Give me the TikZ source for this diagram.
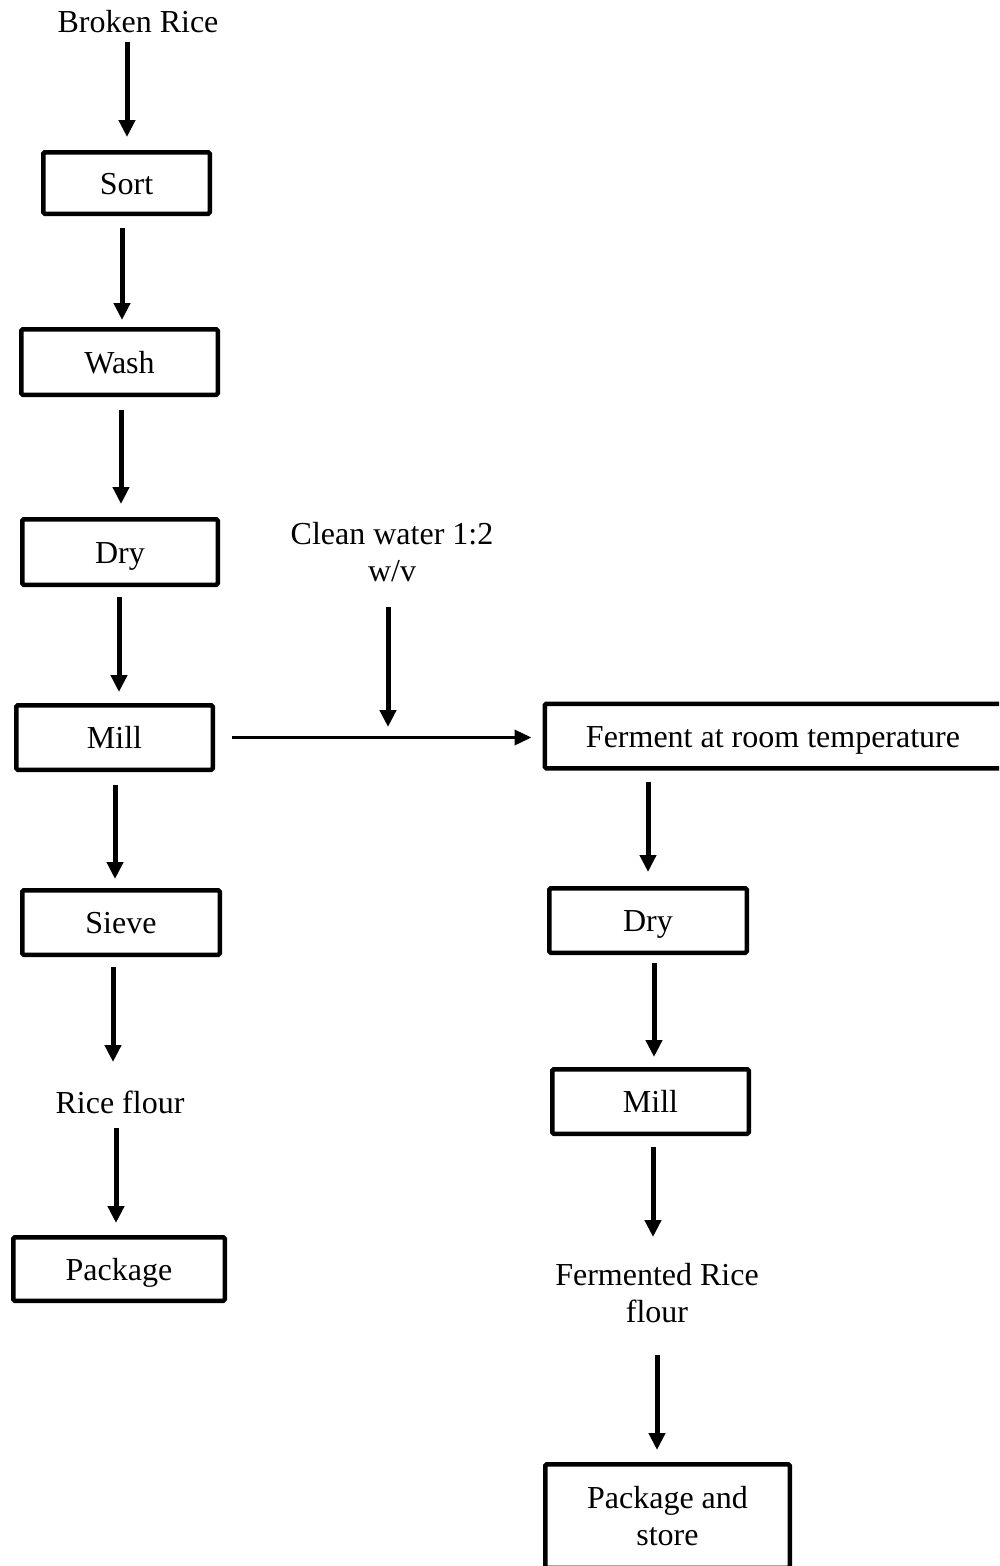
\documentclass[tikz,border=0pt]{standalone}
\usepackage{fontspec}
\setmainfont{Liberation Serif}
\usetikzlibrary{arrows.meta,calc}

\tikzset{
  stepbox/.style={draw=black, line width=4.5pt, rounded corners=1.5pt, fill=white,
    inner sep=0pt, align=center, font=\fontsize{32}{37}\selectfont},
  oneline/.style={text height=22pt, text depth=0pt},
  label/.style={inner sep=0pt, align=center, font=\fontsize{32}{37}\selectfont},
  flow/.style={line width=5pt, -{Triangle[length=17pt,width=16pt]}},
  thinflow/.style={line width=3.5pt, -{Triangle[length=17pt,width=15pt]}}
}

\begin{document}
\begin{tikzpicture}[x=1pt,y=-1pt]
\useasboundingbox (0,0) rectangle (999,1566);
\clip (0,0) rectangle (999,1566);

% plain rice flour line
\node[label, anchor=base] (broken) at (138,32) {Broken Rice};
\node[stepbox, oneline, minimum width=166.5pt, minimum height=61.5pt] (sort)  at (126.5,183)  {Sort};
\node[stepbox, oneline, minimum width=196.5pt, minimum height=65.5pt] (wash)  at (119.5,362)  {Wash};
\node[stepbox, oneline, minimum width=195.5pt, minimum height=65.5pt] (dryL)  at (120,552)    {Dry};
\node[stepbox, oneline, minimum width=196.5pt, minimum height=64.5pt] (millL) at (114.5,737.5) {Mill};
\node[stepbox, oneline, minimum width=197.5pt, minimum height=64.5pt] (sieve) at (121,922.5)  {Sieve};
\node[label, anchor=base] (flour) at (120,1113) {Rice flour};
\node[stepbox, oneline, minimum width=211.5pt, minimum height=63.5pt] (pack)  at (119,1269)   {Package};

% fermented rice flour line
\node[label] (water) at (392,552) {Clean water 1:2\\w/v};
\node[stepbox, oneline, minimum width=466.5pt, minimum height=64.5pt] (ferment) at (778,736)
  {\hspace*{-10pt}Ferment at room temperature};
\node[stepbox, oneline, minimum width=197.5pt, minimum height=64.5pt] (dryR)  at (648,920.5)  {Dry};
\node[stepbox, oneline, minimum width=196.5pt, minimum height=64.5pt] (millR) at (650.5,1101.5) {Mill};
\node[label] (fflour) at (657,1293) {Fermented Rice\\flour};
\node[stepbox, minimum width=244.5pt, minimum height=103.5pt] (store) at (667.5,1516) {Package and\\store};
\coordinate (wjoin) at (388,737);

% connectors, left column
\draw[flow] ([xshift=-11pt,yshift=-10pt]broken.base) -- ([xshift=0.5pt,yshift=13pt]sort.north);
\draw[flow] ([xshift=-4.5pt,yshift=-12pt]sort.south) -- ([xshift=2.5pt,yshift=7pt]wash.north);
\draw[flow] ([xshift=1.5pt,yshift=-13pt]wash.south) -- ([xshift=1pt,yshift=13pt]dryL.north);
\draw[flow] ([xshift=-1pt,yshift=-10pt]dryL.south) -- ([xshift=4.5pt,yshift=11pt]millL.north);
\draw[flow] ([xshift=0.5pt,yshift=-13pt]millL.south) -- ([xshift=-6pt,yshift=9pt]sieve.north);
\draw[flow] ([xshift=-8pt,yshift=-10pt]sieve.south) -- ([xshift=-7pt,yshift=51pt]flour.base);
\draw[flow] ([xshift=-4pt,yshift=-15pt]flour.base) -- ([xshift=-3pt,yshift=12pt]pack.north);

% water addition and transfer to fermentation
\draw[flow] ([xshift=-4pt,yshift=-55pt]water.center) -- ([yshift=10pt]wjoin);
\draw[thinflow] ([xshift=17pt]millL.east) -- ($(millL.east -| ferment.west)+(-11,0)$);

% connectors, right column
\draw[flow] ([xshift=-130pt,yshift=-11pt]ferment.south) -- ([yshift=14pt]dryR.north);
\draw[flow] ([xshift=6pt,yshift=-8pt]dryR.south) -- ([xshift=3.5pt,yshift=10pt]millR.north);
\draw[flow] ([xshift=2.5pt,yshift=-11pt]millR.south) -- ([xshift=-4pt,yshift=56pt]fflour.center);
\draw[flow] ([yshift=-62pt]fflour.center) -- ([xshift=-10.5pt,yshift=12pt]store.north);
\end{tikzpicture}
\end{document}
